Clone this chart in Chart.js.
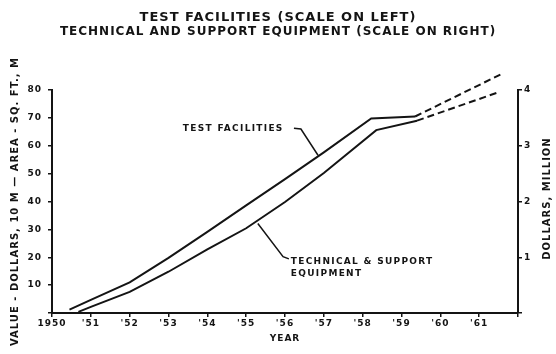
<!DOCTYPE html>
<html>
<head>
<meta charset="utf-8">
<script src="https://cdn.jsdelivr.net/npm/chart.js@4.4.1/dist/chart.umd.min.js"></script>
<style>
  html, body { margin: 0; padding: 0; background: #fff; }
  #wrap { width: 556px; height: 354px; }
</style>
</head>
<body>
<div id="wrap"><canvas id="grafico"></canvas></div>
<script>
// Test facilities, left scale (dollars x 10M / sq. ft. M)
const testYears = [1950.45, 1951, 1952, 1953, 1954, 1955, 1956, 1957, 1958.22, 1959.35];
const testValues = [1.2, 4.7, 11.0, 19.8, 29.1, 38.6, 48.0, 57.6, 69.8, 70.5];
const testProjYears = [1959.35, 1961.57];
const testProjValues = [70.5, 85.7];

// Technical & support equipment, right scale (dollars, million)
const techYears = [1950.68, 1951, 1952, 1953, 1954, 1955, 1956, 1957, 1958.35, 1959.4];
const techValues = [0.02, 0.11, 0.38, 0.74, 1.14, 1.52, 1.99, 2.51, 3.28, 3.45];
const techProjYears = [1959.4, 1961.5];
const techProjValues = [3.45, 3.96];

const titleTop = 'TEST FACILITIES (SCALE ON LEFT)';
const titleBottom = 'TECHNICAL AND SUPPORT EQUIPMENT (SCALE ON RIGHT)';

const ink = '#141414';
const fontFam = '"DejaVu Sans", sans-serif';

const pts = (xs, ys) => xs.map((x, i) => ({ x: x, y: ys[i] }));

// callout labels with leader lines, placed in data units
const callouts = [
    {
        lines: ['TEST FACILITIES'], at: [1953.37, 66.3],
        leader: [[1956.23, 66.3], [1956.41, 66.0], [1956.85, 56.6]]
    },
    {
        lines: ['TECHNICAL & SUPPORT', 'EQUIPMENT'], at: [1956.15, 18.4],
        leader: [[1956.1, 19.4], [1955.95, 20.2], [1955.3, 32.1]]
    }
];

const spacing = {
    id: 'spacing',
    beforeUpdate(chart) { chart.ctx.letterSpacing = '1px'; },
    beforeDraw(chart) { chart.ctx.letterSpacing = '1px'; }
};

const extras = {
    id: 'extras',
    afterDraw(chart) {
        const { ctx, scales } = chart;
        const sx = scales.x, sy = scales.y;
        ctx.save();
        ctx.fillStyle = ink;
        ctx.strokeStyle = ink;
        ctx.lineWidth = 1.5;

        callouts.forEach(c => {
            ctx.beginPath();
            c.leader.forEach((p, i) => {
                const px = sx.getPixelForValue(p[0]);
                const py = sy.getPixelForValue(p[1]);
                if (i === 0) ctx.moveTo(px, py); else ctx.lineTo(px, py);
            });
            ctx.stroke();
            ctx.letterSpacing = '1.3px';
            ctx.font = 'bold 9px ' + fontFam;
            ctx.textAlign = 'left';
            ctx.textBaseline = 'middle';
            const x0 = sx.getPixelForValue(c.at[0]);
            const y0 = sy.getPixelForValue(c.at[1]);
            c.lines.forEach((t, i) => ctx.fillText(t, x0, y0 + i * 12));
        });

        // right-hand axis title reads bottom to top
        const r = scales.y2;
        ctx.letterSpacing = '1px';
        ctx.font = 'bold 10px ' + fontFam;
        ctx.textAlign = 'center';
        ctx.textBaseline = 'middle';
        ctx.translate(r.right - 9, (r.top + r.bottom) / 2 - 3);
        ctx.rotate(-Math.PI / 2);
        ctx.fillText('DOLLARS, MILLION', 0, 0);
        ctx.restore();
    }
};

const axisGrid = {
    drawOnChartArea: false,
    drawTicks: true,
    tickLength: 4,
    color: ink,
    lineWidth: 1.5
};

new Chart(document.getElementById('grafico'), {
    type: 'line',
    data: {
        datasets: [
            { data: pts(testYears, testValues), yAxisID: 'y', borderColor: ink, borderWidth: 2, pointRadius: 0, tension: 0 },
            { data: pts(testProjYears, testProjValues), yAxisID: 'y', borderColor: ink, borderWidth: 2, borderDash: [7, 4], pointRadius: 0, clip: false },
            { data: pts(techYears, techValues), yAxisID: 'y2', borderColor: ink, borderWidth: 2, pointRadius: 0, tension: 0 },
            { data: pts(techProjYears, techProjValues), yAxisID: 'y2', borderColor: ink, borderWidth: 2, borderDash: [7, 4], pointRadius: 0, clip: false }
        ]
    },
    options: {
        responsive: true,
        maintainAspectRatio: false,
        animation: false,
        layout: { padding: 0 },
        plugins: {
            legend: { display: false },
            tooltip: { enabled: false },
            title: {
                display: true,
                text: titleTop,
                color: ink,
                font: { family: fontFam, size: 13, weight: 'bold', lineHeight: 1.1 },
                padding: { top: 10, bottom: 0 }
            },
            subtitle: {
                display: true,
                text: titleBottom,
                color: ink,
                font: { family: fontFam, size: 12, weight: 'bold', lineHeight: 1.2 },
                padding: { top: 0, bottom: 51.3 }
            }
        },
        scales: {
            x: {
                type: 'linear',
                min: 1950,
                max: 1962,
                afterFit: s => { s.height = 41; },
                border: { color: ink, width: 2 },
                grid: axisGrid,
                ticks: {
                    stepSize: 1,
                    color: ink,
                    padding: 1,
                    maxRotation: 0,
                    autoSkip: false,
                    font: { family: fontFam, size: 9, weight: 'bold' },
                    callback: v => v === 1950 ? '1950' : (v >= 1962 ? '' : "'" + (v - 1900))
                },
                title: {
                    display: true,
                    text: 'YEAR',
                    color: ink,
                    font: { family: fontFam, size: 9, weight: 'bold' },
                    padding: { top: 0, bottom: 10 }
                }
            },
            y: {
                position: 'left',
                min: 0,
                max: 80,
                afterFit: s => { s.width = 52; },
                border: { color: ink, width: 2 },
                grid: axisGrid,
                ticks: {
                    stepSize: 10,
                    color: ink,
                    padding: 6,
                    font: { family: fontFam, size: 9, weight: 'bold' },
                    callback: v => v === 0 ? '' : v
                },
                title: {
                    display: true,
                    text: 'VALUE - DOLLARS, 10 M \u2014 AREA - SQ. FT., M',
                    color: ink,
                    font: { family: fontFam, size: 10, weight: 'bold' },
                    padding: { top: 9, bottom: 0 }
                }
            },
            y2: {
                position: 'right',
                min: 0,
                max: 4,
                afterFit: s => { s.width = 38; },
                border: { color: ink, width: 2 },
                grid: axisGrid,
                ticks: {
                    stepSize: 1,
                    color: ink,
                    padding: 2,
                    font: { family: fontFam, size: 9, weight: 'bold' },
                    callback: v => v === 0 ? '' : v
                },
                title: { display: false }
            }
        }
    },
    plugins: [spacing, extras]
});
</script>
</body>
</html>
